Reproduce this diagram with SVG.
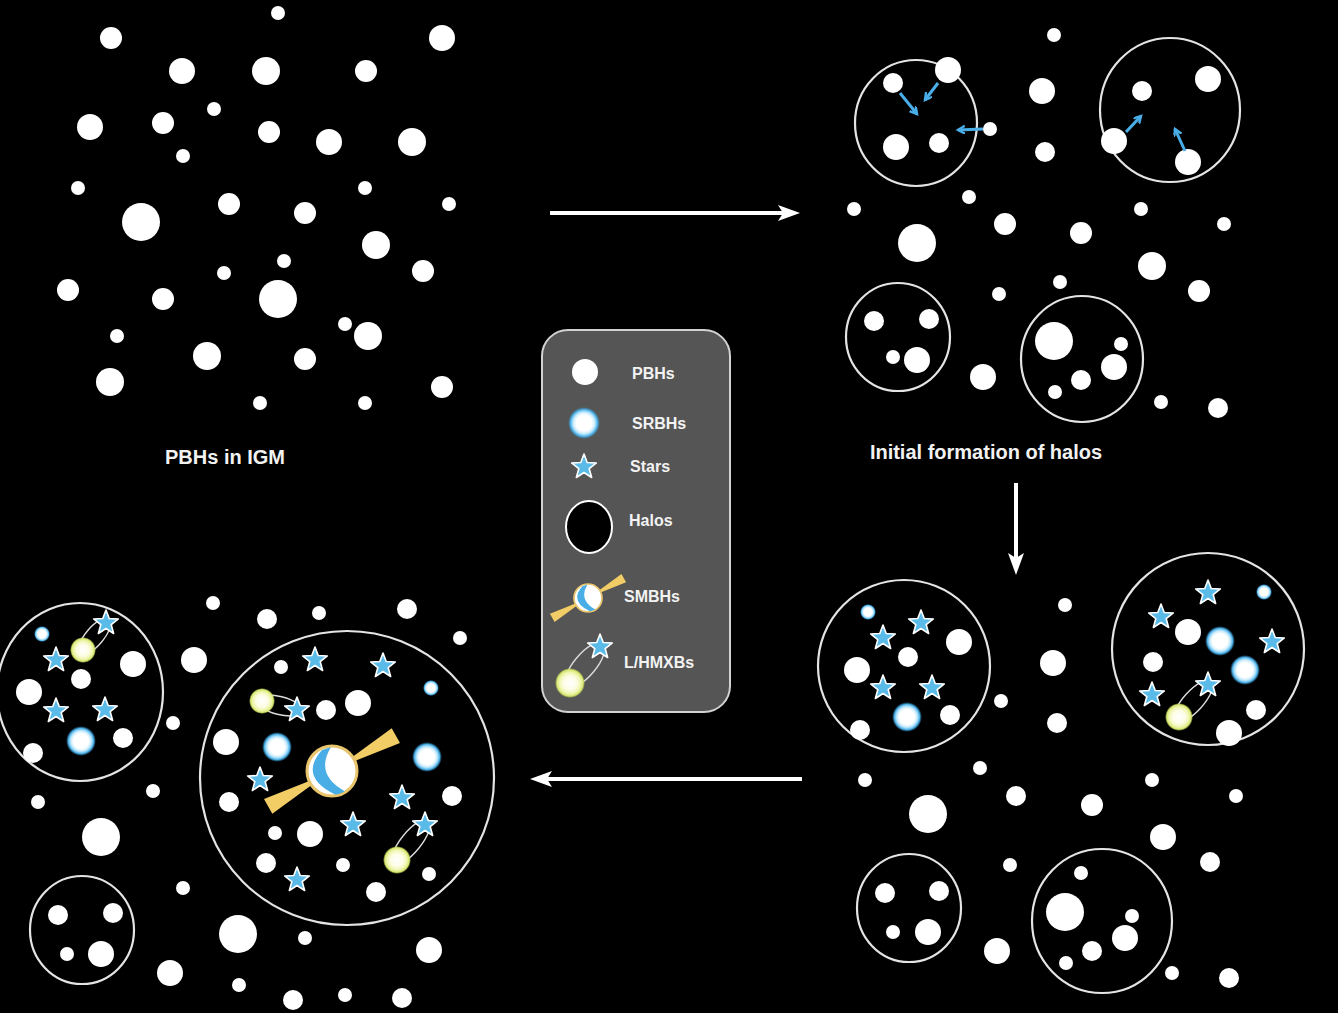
<svg xmlns="http://www.w3.org/2000/svg" xmlns:xlink="http://www.w3.org/1999/xlink" width="1338" height="1013" viewBox="0 0 1338 1013">
  <style>
    .pbh { fill: #ffffff; }
    .halo { fill: none; stroke: #e4e4e4; stroke-width: 2.2; }
    .orbit { fill: none; stroke: #dcdcdc; stroke-width: 1.4; }
    .label { font-family: "Liberation Sans", Arial, sans-serif; font-weight: bold; font-size: 20px; fill: #f2f2f2; }
    .key { font-family: "Liberation Sans", Arial, sans-serif; font-weight: bold; font-size: 16px; fill: #f2f2f2; }
    .flow { stroke: #ffffff; stroke-width: 4; fill: none; }
    .pull { stroke: #4aaee8; stroke-width: 3; fill: none; }
  </style>
  <defs>
    <!-- five-pointed star, outer radius 13 -->
    <path id="star" d="M0,-13 L3.23,-4.45 L12.36,-4.02 L5.23,1.7 L7.64,10.52 L0,5.5 L-7.64,10.52 L-5.23,1.7 L-12.36,-4.02 L-3.23,-4.45 Z" fill="#5bbbe8" stroke="#ffffff" stroke-width="1.6" stroke-linejoin="round"/>
    <radialGradient id="srbhGlow">
      <stop offset="0" stop-color="#ffffff"/>
      <stop offset="0.5" stop-color="#ffffff"/>
      <stop offset="0.68" stop-color="#c4eafc"/>
      <stop offset="0.84" stop-color="#4fb3ea"/>
      <stop offset="1" stop-color="#2f8fd0" stop-opacity="0"/>
    </radialGradient>
    <radialGradient id="xrbGlow">
      <stop offset="0" stop-color="#ffffff"/>
      <stop offset="0.45" stop-color="#fdfde6"/>
      <stop offset="0.72" stop-color="#eef5ac"/>
      <stop offset="0.88" stop-color="#d4e46c"/>
      <stop offset="1" stop-color="#c0d850" stop-opacity="0"/>
    </radialGradient>
    <clipPath id="sphereClip"><circle r="24"/></clipPath>
    <!-- accreting black hole with twin jets -->
    <g id="smbh">
      <g transform="rotate(-29)">
        <polygon points="22,-2 73,-8.5 73,8.5 22,2" fill="#f2cd66"/>
        <polygon points="-22,-2 -73,-8.5 -73,8.5 -22,2" fill="#f2cd66"/>
      </g>
      <circle r="25" fill="#ffffff" stroke="#e8c46c" stroke-width="3"/>
      <path clip-path="url(#sphereClip)" d="M-10,-21 Q-34,6 4,24 L14,21 Q-18,4 -1,-24 Z" fill="#49aee6"/>
    </g>
    <marker id="head" markerUnits="userSpaceOnUse" markerWidth="24" markerHeight="18" refX="14" refY="8" orient="auto">
      <path d="M0,0 L22,8 L0,16 L5,8 Z" fill="#ffffff"/>
    </marker>
    <marker id="pullHead" markerUnits="userSpaceOnUse" markerWidth="10" markerHeight="10" refX="7" refY="4" orient="auto">
      <path d="M0,0 L7,4 L0,8" fill="none" stroke="#4aaee8" stroke-width="2.4"/>
    </marker>
  </defs>

  <rect width="1338" height="1013" fill="#000000"/>

  <!-- Stage 1: PBHs scattered through the IGM -->
  <g id="stage-igm">
    <g class="pbh">
      <circle cx="278" cy="13" r="7"/><circle cx="111" cy="38" r="11"/><circle cx="442" cy="38" r="13"/>
      <circle cx="182" cy="71" r="13"/><circle cx="266" cy="71" r="14"/><circle cx="366" cy="71" r="11"/>
      <circle cx="214" cy="109" r="7"/><circle cx="90" cy="127" r="13"/><circle cx="163" cy="123" r="11"/>
      <circle cx="269" cy="132" r="11"/><circle cx="329" cy="142" r="13"/><circle cx="412" cy="142" r="14"/>
      <circle cx="183" cy="156" r="7"/><circle cx="78" cy="188" r="7"/><circle cx="365" cy="188" r="7"/>
      <circle cx="449" cy="204" r="7"/><circle cx="141" cy="222" r="19"/><circle cx="229" cy="204" r="11"/>
      <circle cx="305" cy="213" r="11"/><circle cx="376" cy="245" r="14"/><circle cx="284" cy="261" r="7"/>
      <circle cx="224" cy="273" r="7"/><circle cx="423" cy="271" r="11"/><circle cx="68" cy="290" r="11"/>
      <circle cx="163" cy="299" r="11"/><circle cx="278" cy="299" r="19"/><circle cx="345" cy="324" r="7"/>
      <circle cx="368" cy="336" r="14"/><circle cx="117" cy="336" r="7"/><circle cx="207" cy="356" r="14"/>
      <circle cx="305" cy="359" r="11"/><circle cx="110" cy="382" r="14"/><circle cx="442" cy="387" r="11"/>
      <circle cx="260" cy="403" r="7"/><circle cx="365" cy="403" r="7"/>
    </g>
    <text class="label" x="225" y="464" text-anchor="middle">PBHs in IGM</text>
  </g>

  <!-- Stage 2: first halos collapse around PBHs -->
  <g id="stage-initial-halos">
    <ellipse class="halo" cx="916" cy="123" rx="61" ry="63"/>
    <ellipse class="halo" cx="1170" cy="110" rx="70" ry="72"/>
    <ellipse class="halo" cx="898" cy="337" rx="52" ry="54"/>
    <ellipse class="halo" cx="1082" cy="359" rx="61" ry="63"/>
    <g class="pbh">
      <circle cx="893" cy="83" r="10"/><circle cx="948" cy="70" r="13"/><circle cx="896" cy="147" r="13"/>
      <circle cx="939" cy="143" r="10"/><circle cx="990" cy="129" r="7"/>
      <circle cx="1054" cy="35" r="7"/><circle cx="1042" cy="91" r="13"/><circle cx="1045" cy="152" r="10"/>
      <circle cx="1142" cy="91" r="10"/><circle cx="1208" cy="79" r="13"/><circle cx="1114" cy="141" r="13"/>
      <circle cx="1188" cy="162" r="13"/>
      <circle cx="969" cy="197" r="7"/><circle cx="854" cy="209" r="7"/><circle cx="917" cy="243" r="19"/>
      <circle cx="1005" cy="224" r="11"/><circle cx="1081" cy="233" r="11"/><circle cx="1141" cy="209" r="7"/>
      <circle cx="1224" cy="224" r="7"/><circle cx="1152" cy="266" r="14"/><circle cx="1060" cy="282" r="7"/>
      <circle cx="999" cy="294" r="7"/><circle cx="1199" cy="291" r="11"/>
      <circle cx="874" cy="321" r="10"/><circle cx="929" cy="319" r="10"/><circle cx="893" cy="357" r="7"/>
      <circle cx="917" cy="360" r="13"/><circle cx="983" cy="377" r="13"/>
      <circle cx="1054" cy="341" r="19"/><circle cx="1121" cy="344" r="7"/><circle cx="1114" cy="367" r="13"/>
      <circle cx="1081" cy="380" r="10"/><circle cx="1055" cy="392" r="7"/>
      <circle cx="1161" cy="402" r="7"/><circle cx="1218" cy="408" r="10"/>
    </g>
    <g>
      <line class="pull" x1="900" y1="93" x2="917" y2="114" marker-end="url(#pullHead)"/>
      <line class="pull" x1="938" y1="83" x2="925" y2="100" marker-end="url(#pullHead)"/>
      <line class="pull" x1="983" y1="129" x2="958" y2="130" marker-end="url(#pullHead)"/>
      <line class="pull" x1="1126" y1="132" x2="1141" y2="116" marker-end="url(#pullHead)"/>
      <line class="pull" x1="1185" y1="151" x2="1175" y2="129" marker-end="url(#pullHead)"/>
    </g>
    <text class="label" x="986" y="459" text-anchor="middle">Initial formation of halos</text>
  </g>

  <!-- Stage 3: stars, stellar remnants and X-ray binaries inside halos -->
  <g id="stage-stellar-halos">
    <ellipse class="halo" cx="904" cy="666" rx="86" ry="86"/>
    <ellipse class="halo" cx="1208" cy="649" rx="96" ry="96"/>
    <ellipse class="halo" cx="909" cy="908" rx="52" ry="54"/>
    <ellipse class="halo" cx="1102" cy="921" rx="70" ry="72"/>
    <g class="pbh">
      <circle cx="959" cy="642" r="13"/><circle cx="908" cy="657" r="10"/><circle cx="857" cy="670" r="13"/>
      <circle cx="950" cy="715" r="10"/><circle cx="860" cy="730" r="10"/>
      <circle cx="1065" cy="605" r="7"/><circle cx="1053" cy="663" r="13"/><circle cx="1001" cy="701" r="7"/>
      <circle cx="1057" cy="723" r="10"/>
      <circle cx="1188" cy="632" r="13"/><circle cx="1153" cy="662" r="10"/><circle cx="1256" cy="710" r="10"/>
      <circle cx="1229" cy="733" r="13"/>
      <circle cx="865" cy="780" r="7"/><circle cx="980" cy="768" r="7"/><circle cx="1016" cy="796" r="10"/>
      <circle cx="928" cy="814" r="19"/><circle cx="1092" cy="805" r="11"/><circle cx="1152" cy="780" r="7"/>
      <circle cx="1236" cy="796" r="7"/><circle cx="1163" cy="837" r="13"/><circle cx="1010" cy="865" r="7"/>
      <circle cx="1210" cy="862" r="10"/><circle cx="997" cy="951" r="13"/><circle cx="1172" cy="973" r="7"/>
      <circle cx="1229" cy="978" r="10"/>
      <circle cx="885" cy="893" r="10"/><circle cx="939" cy="891" r="10"/><circle cx="893" cy="932" r="7"/>
      <circle cx="928" cy="932" r="13"/>
      <circle cx="1081" cy="873" r="7"/><circle cx="1065" cy="912" r="19"/><circle cx="1132" cy="916" r="7"/>
      <circle cx="1125" cy="938" r="13"/><circle cx="1092" cy="951" r="10"/><circle cx="1066" cy="963" r="7"/>
    </g>
    <circle cx="868" cy="612" r="8" fill="url(#srbhGlow)"/>
    <circle cx="907" cy="717" r="15" fill="url(#srbhGlow)"/>
    <circle cx="1264" cy="592" r="8" fill="url(#srbhGlow)"/>
    <circle cx="1220" cy="641" r="15" fill="url(#srbhGlow)"/>
    <circle cx="1245" cy="670" r="15" fill="url(#srbhGlow)"/>
    <ellipse class="orbit" cx="1193.5" cy="701" rx="27" ry="10" transform="rotate(-48 1193.5 701)"/>
    <circle cx="1179" cy="717" r="14" fill="url(#xrbGlow)"/>
    <use xlink:href="#star" x="883" y="638"/><use xlink:href="#star" x="921" y="623"/>
    <use xlink:href="#star" x="883" y="688"/><use xlink:href="#star" x="932" y="688"/>
    <use xlink:href="#star" x="1208" y="593"/><use xlink:href="#star" x="1161" y="617"/>
    <use xlink:href="#star" x="1272" y="642"/><use xlink:href="#star" x="1208" y="685"/>
    <use xlink:href="#star" x="1152" y="695"/>
  </g>

  <!-- Stage 4: halos merge and a supermassive black hole grows at the centre -->
  <g id="stage-smbh">
    <ellipse class="halo" cx="80" cy="692" rx="83" ry="89"/>
    <ellipse class="halo" cx="347" cy="778" rx="147" ry="147"/>
    <ellipse class="halo" cx="82" cy="930" rx="52" ry="54"/>
    <g class="pbh">
      <circle cx="133" cy="664" r="13"/><circle cx="81" cy="679" r="10"/><circle cx="29" cy="692" r="13"/>
      <circle cx="123" cy="738" r="10"/><circle cx="33" cy="753" r="10"/>
      <circle cx="213" cy="603" r="7"/><circle cx="267" cy="619" r="10"/><circle cx="319" cy="613" r="7"/>
      <circle cx="407" cy="609" r="10"/><circle cx="460" cy="638" r="7"/><circle cx="194" cy="660" r="13"/>
      <circle cx="173" cy="723" r="7"/><circle cx="153" cy="791" r="7"/><circle cx="38" cy="802" r="7"/>
      <circle cx="101" cy="837" r="19"/><circle cx="183" cy="888" r="7"/><circle cx="170" cy="973" r="13"/>
      <circle cx="238" cy="934" r="19"/><circle cx="305" cy="938" r="7"/><circle cx="429" cy="950" r="13"/>
      <circle cx="239" cy="985" r="7"/><circle cx="293" cy="1000" r="10"/><circle cx="345" cy="995" r="7"/>
      <circle cx="402" cy="998" r="10"/>
      <circle cx="58" cy="915" r="10"/><circle cx="113" cy="913" r="10"/><circle cx="67" cy="954" r="7"/>
      <circle cx="101" cy="954" r="13"/>
      <circle cx="281" cy="667" r="7"/><circle cx="326" cy="710" r="10"/><circle cx="358" cy="703" r="13"/>
      <circle cx="226" cy="742" r="13"/><circle cx="229" cy="802" r="10"/><circle cx="452" cy="796" r="10"/>
      <circle cx="275" cy="833" r="7"/><circle cx="310" cy="834" r="13"/><circle cx="266" cy="863" r="10"/>
      <circle cx="343" cy="865" r="7"/><circle cx="429" cy="874" r="7"/><circle cx="376" cy="892" r="10"/>
    </g>
    <circle cx="42" cy="634" r="8" fill="url(#srbhGlow)"/>
    <circle cx="81" cy="741" r="15" fill="url(#srbhGlow)"/>
    <circle cx="431" cy="688" r="8" fill="url(#srbhGlow)"/>
    <circle cx="277" cy="747" r="15" fill="url(#srbhGlow)"/>
    <circle cx="427" cy="757" r="15" fill="url(#srbhGlow)"/>
    <ellipse class="orbit" cx="94.5" cy="636.5" rx="23" ry="9" transform="rotate(-50 94.5 636.5)"/>
    <ellipse class="orbit" cx="279.5" cy="705.5" rx="24" ry="9" transform="rotate(14 279.5 705.5)"/>
    <ellipse class="orbit" cx="411" cy="842" rx="28" ry="10" transform="rotate(-51 411 842)"/>
    <circle cx="83" cy="650" r="13" fill="url(#xrbGlow)"/>
    <circle cx="262" cy="701" r="13" fill="url(#xrbGlow)"/>
    <circle cx="397" cy="860" r="14" fill="url(#xrbGlow)"/>
    <use xlink:href="#star" x="106" y="623"/><use xlink:href="#star" x="56" y="660"/>
    <use xlink:href="#star" x="56" y="711"/><use xlink:href="#star" x="105" y="710"/>
    <use xlink:href="#star" x="315" y="660"/><use xlink:href="#star" x="383" y="666"/>
    <use xlink:href="#star" x="297" y="710"/><use xlink:href="#star" x="260" y="780"/>
    <use xlink:href="#star" x="402" y="798"/><use xlink:href="#star" x="353" y="825"/>
    <use xlink:href="#star" x="425" y="825"/><use xlink:href="#star" x="297" y="880"/>
    <use xlink:href="#smbh" x="332" y="771"/>
  </g>

  <!-- Key -->
  <g id="legend">
    <rect x="542" y="330" width="188" height="382" rx="26" fill="#555555" stroke="#d2d2d2" stroke-width="2"/>
    <circle cx="585" cy="372" r="13" fill="#ffffff"/>
    <text class="key" x="632" y="379">PBHs</text>
    <circle cx="584" cy="423" r="16" fill="url(#srbhGlow)"/>
    <text class="key" x="632" y="429">SRBHs</text>
    <use xlink:href="#star" x="584" y="467"/>
    <text class="key" x="630" y="472">Stars</text>
    <ellipse cx="589" cy="527" rx="23" ry="26" fill="#000000" stroke="#ffffff" stroke-width="2"/>
    <text class="key" x="629" y="526">Halos</text>
    <g transform="translate(588 598) scale(0.56)"><use xlink:href="#smbh"/></g>
    <text class="key" x="624" y="602">SMBHs</text>
    <ellipse class="orbit" cx="585" cy="665" rx="28" ry="11" transform="rotate(-50 585 665)"/>
    <circle cx="570" cy="683" r="15" fill="url(#xrbGlow)"/>
    <use xlink:href="#star" x="600" y="647"/>
    <text class="key" x="624" y="668">L/HMXBs</text>
  </g>

  <!-- Evolution arrows between stages -->
  <g id="connectors">
    <line class="flow" x1="550" y1="213" x2="792" y2="213" marker-end="url(#head)"/>
    <line class="flow" x1="1016" y1="483" x2="1016" y2="567" marker-end="url(#head)"/>
    <line class="flow" x1="802" y1="779" x2="538" y2="779" marker-end="url(#head)"/>
  </g>
</svg>
